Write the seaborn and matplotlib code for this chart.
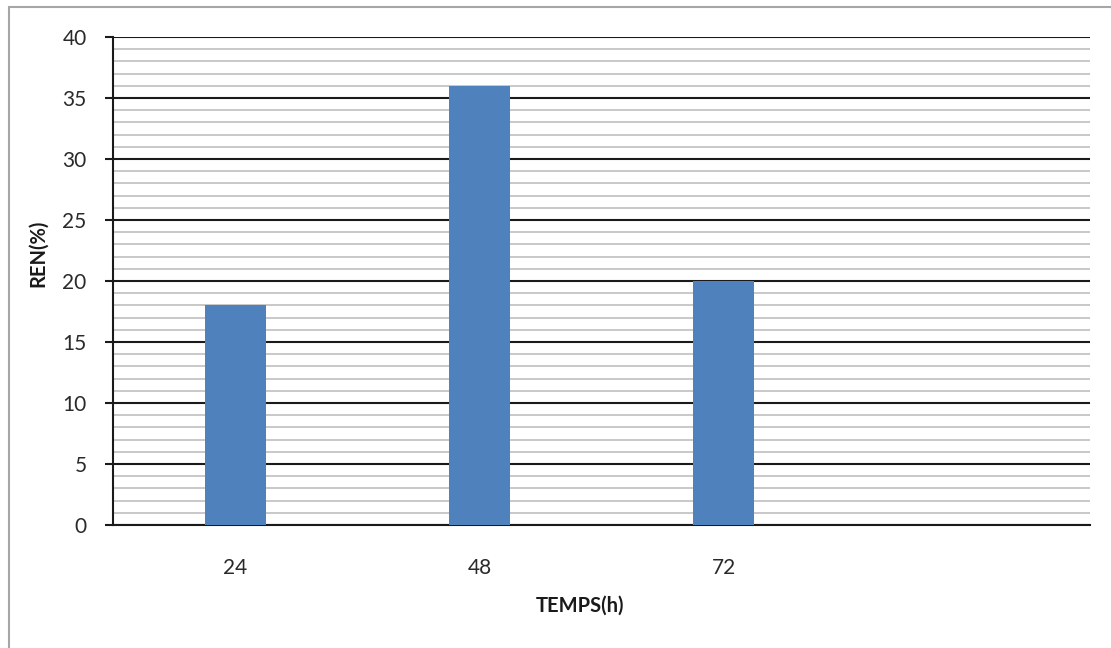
import matplotlib
matplotlib.use("Agg")
import matplotlib.pyplot as plt
from matplotlib.ticker import MultipleLocator
from matplotlib.patches import Rectangle
import seaborn as sns
import pandas as pd

# Yield (%) measured after each incubation time
temps = ["24", "48", "72"]
rendement = [18, 36, 20]

x_label = "TEMPS(h)"
y_label = "REN(%)"

sns.set_theme(style="white")
plt.rcParams["font.family"] = ["Lato", "DejaVu Sans"]

df = pd.DataFrame({"temps": temps, "ren": rendement})

fig = plt.figure(figsize=(11.11, 6.48), dpi=100)
ax = fig.add_axes([113 / 1111, 1 - 525 / 648, 977 / 1111, 488 / 648])

sns.barplot(data=df, x="temps", y="ren", order=temps, color="#4F81BD",
            saturation=1, width=0.25, linewidth=0, ax=ax, zorder=3)

# Empty fourth slot on the category axis
ax.set_xlim(-0.5, 3.5)
ax.set_ylim(0, 40)
ax.yaxis.set_major_locator(MultipleLocator(5))
ax.yaxis.set_minor_locator(MultipleLocator(1))
ax.set_axisbelow(True)
ax.grid(which="major", axis="y", color="#1a1a1a", linewidth=1.5, zorder=0)
ax.grid(which="minor", axis="y", color="#c8c8c8", linewidth=1.4, zorder=0)
ax.grid(axis="x", visible=False)

for side in ("top", "right"):
    ax.spines[side].set_visible(False)
for side in ("left", "bottom"):
    ax.spines[side].set_color("#1a1a1a")
    ax.spines[side].set_linewidth(1.5)

ax.tick_params(axis="y", which="major", direction="out", length=6, width=1.5,
               color="#1a1a1a", pad=13, labelsize=15, labelcolor="#2a2a2a", left=True)
ax.tick_params(axis="y", which="minor", length=0)
ax.tick_params(axis="x", length=0, pad=24, labelsize=15, labelcolor="#2a2a2a")

ax.set_xlabel(x_label, fontsize=14.5, fontweight="bold", color="#1a1a1a")
ax.set_ylabel(y_label, fontsize=14.5, fontweight="bold", color="#1a1a1a")
ax.xaxis.set_label_coords((580 - 113) / 977, -(596 - 525) / 488)
ax.yaxis.set_label_coords(-(113 - 48) / 977, (525 - 253) / 488)

# Chart-area frame
fig.patches.append(Rectangle((9 / 1111, -0.1), 1.2, 1 - 7 / 648 + 0.1,
                             transform=fig.transFigure, fill=False,
                             edgecolor="#a6a6a6", linewidth=1.5))

fig.savefig("out.png", dpi=100)
